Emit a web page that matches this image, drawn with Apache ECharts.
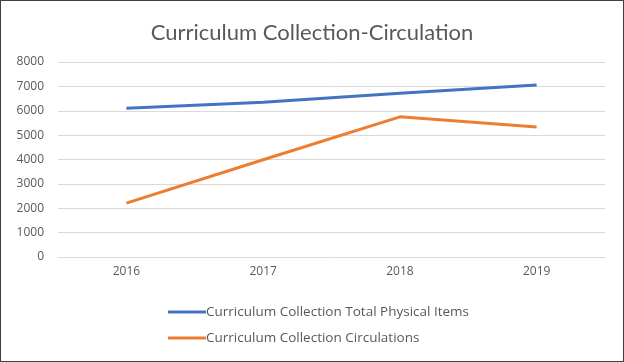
<!DOCTYPE html>
<html>
<head>
<meta charset="utf-8">
<script src="https://cdn.jsdelivr.net/npm/echarts@6/dist/echarts.min.js"></script>
<style>
html,body{margin:0;padding:0;background:#fff;}
#wrap{position:absolute;left:0;top:0;width:622px;height:360px;border:1px solid #404040;}
#c{width:622px;height:360px;}
</style>
</head>
<body>
<div id="wrap"><div id="c"></div></div>
<script>
const titleText = 'Curriculum Collection-Circulation';
const categories = ['2016', '2017', '2018', '2019'];
const seriesNames = ['Curriculum Collection Total Physical Items', 'Curriculum Collection Circulations'];
const totalItems = [6100, 6350, 6720, 7060];
const circulations = [2210, 3990, 5750, 5330];
const yTicks = [0, 1000, 2000, 3000, 4000, 5000, 6000, 7000, 8000];

const chart = echarts.init(document.getElementById('c'));
const font = '"Open Sans", sans-serif';
chart.setOption({
  animation: false,
  title: {
    text: titleText, left: 'center', top: 16,
    textStyle: { fontFamily: 'Lato, sans-serif', fontSize: 22, fontWeight: 'normal', color: '#595959' }
  },
  grid: { left: 57, right: 18, top: 61, bottom: 104 },
  legend: {
    orient: 'vertical', left: 162, top: 299, itemGap: 12,
    itemWidth: 38, itemHeight: 3, icon: 'rect',
    textStyle: { fontFamily: font, fontSize: 13.5, color: '#595959', padding: [0,0,0,-5] },
    data: seriesNames
  },
  xAxis: {
    type: 'category', data: categories, boundaryGap: true,
    axisLine: { show: true, lineStyle: { color: '#d9d9d9' } },
    axisTick: { show: false },
    axisLabel: { fontFamily: font, fontSize: 12, color: '#595959', margin: 9 }
  },
  yAxis: {
    type: 'value', min: yTicks[0], max: yTicks[yTicks.length-1], interval: 1000,
    axisLine: { show: false }, axisTick: { show: false },
    splitLine: { lineStyle: { color: '#d9d9d9', width: 1 } },
    axisLabel: { fontFamily: font, fontSize: 12, color: '#595959', margin: 14,
      formatter: v => String(v) }
  },
  series: [
    { name: seriesNames[0], type: 'line', data: totalItems, symbol: 'none',
      lineStyle: { color: '#4472c4', width: 3 }, itemStyle: { color: '#4472c4' } },
    { name: seriesNames[1], type: 'line', data: circulations, symbol: 'none',
      lineStyle: { color: '#ed7d31', width: 3 }, itemStyle: { color: '#ed7d31' } }
  ]
});
</script>
</body>
</html>
